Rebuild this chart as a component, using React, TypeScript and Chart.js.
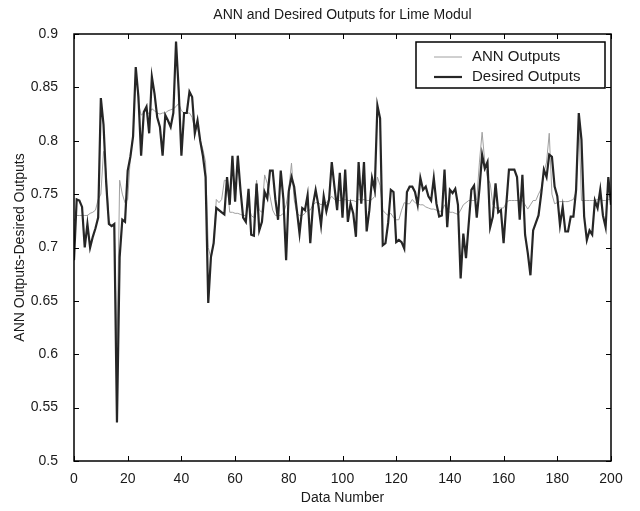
import { useEffect, useRef } from "react";
import { Chart, registerables } from "chart.js";

Chart.register(...registerables);

const dataNumber: number[] = Array.from({ length: 201 }, (_, i) => i);

const annOutputs: number[] = [
  0.725, 0.730, 0.730, 0.730, 0.730, 0.730, 0.732, 0.733, 0.735, 0.745,
  0.750, 0.790, 0.770, 0.725, 0.720, 0.720, 0.600, 0.763, 0.750, 0.742,
  0.745, 0.785, 0.805, 0.868, 0.835, 0.824, 0.826, 0.828, 0.825, 0.830,
  0.828, 0.826, 0.825, 0.826, 0.826, 0.828, 0.829, 0.830, 0.832, 0.835,
  0.828, 0.826, 0.826, 0.826, 0.822, 0.810, 0.812, 0.800, 0.792, 0.780,
  0.700, 0.690, 0.704, 0.745, 0.742, 0.745, 0.763, 0.762, 0.733, 0.733,
  0.732, 0.732, 0.731, 0.730, 0.730, 0.740, 0.730, 0.728, 0.763, 0.735,
  0.733, 0.768, 0.760, 0.748, 0.735, 0.730, 0.730, 0.730, 0.732, 0.740,
  0.755, 0.779, 0.745, 0.732, 0.730, 0.730, 0.732, 0.735, 0.735, 0.740,
  0.742, 0.742, 0.740, 0.742, 0.742, 0.745, 0.748, 0.745, 0.744, 0.744,
  0.744, 0.745, 0.744, 0.744, 0.744, 0.743, 0.745, 0.744, 0.745, 0.744,
  0.744, 0.745, 0.748, 0.766, 0.758, 0.735, 0.732, 0.730, 0.732, 0.728,
  0.726, 0.726, 0.735, 0.742, 0.741, 0.741, 0.745, 0.742, 0.741, 0.740,
  0.740, 0.738, 0.737, 0.736, 0.736, 0.735, 0.734, 0.734, 0.740, 0.735,
  0.733, 0.733, 0.732, 0.731, 0.735, 0.740, 0.742, 0.744, 0.744, 0.744,
  0.745, 0.780, 0.808, 0.780, 0.765, 0.760, 0.740, 0.737, 0.737, 0.737,
  0.737, 0.742, 0.744, 0.744, 0.744, 0.744, 0.744, 0.744, 0.740, 0.736,
  0.740, 0.744, 0.744, 0.750, 0.755, 0.770, 0.780, 0.807, 0.750, 0.741,
  0.742, 0.743, 0.743, 0.743, 0.743, 0.744, 0.745, 0.752, 0.822, 0.744,
  0.744, 0.744, 0.744, 0.744, 0.744, 0.745, 0.745, 0.744, 0.744, 0.745,
  0.745,
];

const desiredOutputs: number[] = [
  0.688, 0.745, 0.744, 0.738, 0.700, 0.722, 0.700, 0.710, 0.718, 0.728,
  0.840, 0.815, 0.760, 0.722, 0.720, 0.722, 0.536, 0.691, 0.726, 0.724,
  0.772, 0.785, 0.804, 0.869, 0.841, 0.786, 0.827, 0.832, 0.807, 0.860,
  0.844, 0.822, 0.813, 0.786, 0.824, 0.819, 0.813, 0.826, 0.893, 0.847,
  0.786, 0.826, 0.826, 0.846, 0.841, 0.807, 0.819, 0.800, 0.786, 0.766,
  0.648, 0.691, 0.704, 0.737, 0.735, 0.733, 0.731, 0.766, 0.740, 0.786,
  0.743, 0.786, 0.754, 0.728, 0.724, 0.755, 0.712, 0.711, 0.760, 0.716,
  0.724, 0.752, 0.746, 0.772, 0.772, 0.745, 0.726, 0.772, 0.745, 0.688,
  0.753, 0.766, 0.757, 0.735, 0.713, 0.737, 0.735, 0.749, 0.704, 0.740,
  0.754, 0.740, 0.721, 0.748, 0.734, 0.745, 0.780, 0.757, 0.735, 0.770,
  0.728, 0.773, 0.724, 0.741, 0.732, 0.710, 0.780, 0.741, 0.780, 0.715,
  0.735, 0.765, 0.754, 0.833, 0.821, 0.702, 0.704, 0.723, 0.754, 0.752,
  0.705, 0.707, 0.705, 0.699, 0.752, 0.757, 0.757, 0.752, 0.740, 0.765,
  0.754, 0.757, 0.748, 0.744, 0.765, 0.741, 0.729, 0.730, 0.773, 0.719,
  0.754, 0.751, 0.755, 0.740, 0.671, 0.713, 0.690, 0.722, 0.754, 0.758,
  0.728, 0.755, 0.787, 0.774, 0.780, 0.719, 0.729, 0.760, 0.733, 0.735,
  0.704, 0.740, 0.773, 0.773, 0.773, 0.766, 0.726, 0.768, 0.712, 0.695,
  0.674, 0.716, 0.723, 0.730, 0.750, 0.773, 0.766, 0.787, 0.785, 0.757,
  0.748, 0.721, 0.738, 0.715, 0.715, 0.729, 0.729, 0.754, 0.826, 0.801,
  0.729, 0.707, 0.716, 0.712, 0.744, 0.737, 0.754, 0.730, 0.719, 0.766,
  0.740,
];

const xTicks: number[] = [0, 20, 40, 60, 80, 100, 120, 140, 160, 180, 200];
const xTickLabels: string[] = ["0", "20", "40", "60", "80", "100", "120", "140", "160", "180", "200"];
const yTicks: number[] = [0.5, 0.55, 0.6, 0.65, 0.7, 0.75, 0.8, 0.85, 0.9];
const yTickLabels: string[] = ["0.5", "0.55", "0.6", "0.65", "0.7", "0.75", "0.8", "0.85", "0.9"];

const FONT = "'Liberation Sans', Arial, sans-serif";
const TEXT = "#1a1a1a";

const whiteBg = {
  id: "whiteBg",
  beforeDraw(chart: any) {
    const { ctx, width, height } = chart;
    ctx.save();
    ctx.fillStyle = "#ffffff";
    ctx.fillRect(0, 0, width, height);
    ctx.restore();
  },
};

const frameTicks = {
  id: "frameTicks",
  afterDatasetsDraw(chart: any) {
    const { ctx, chartArea } = chart;
    const { left, right, top, bottom } = chartArea;
    const xs = chart.scales.x;
    const ys = chart.scales.y;
    const tl = 5;
    ctx.save();
    ctx.strokeStyle = "#000000";
    ctx.lineWidth = 1;
    ctx.beginPath();
    xTicks.forEach((v) => {
      const px = Math.round(xs.getPixelForValue(v)) + 0.5;
      ctx.moveTo(px, bottom);
      ctx.lineTo(px, bottom - tl);
      ctx.moveTo(px, top);
      ctx.lineTo(px, top + tl);
    });
    yTicks.forEach((v) => {
      const py = Math.round(ys.getPixelForValue(v)) + 0.5;
      ctx.moveTo(left, py);
      ctx.lineTo(left + tl, py);
      ctx.moveTo(right, py);
      ctx.lineTo(right - tl, py);
    });
    ctx.stroke();
    ctx.lineWidth = 1.5;
    ctx.strokeRect(left, top, right - left, bottom - top);
    ctx.restore();
  },
};

const boxLegend = {
  id: "boxLegend",
  afterDraw(chart: any) {
    const { ctx, chartArea } = chart;
    const w = 189;
    const h = 46;
    const x0 = chartArea.right - 6 - w;
    const y0 = chartArea.top + 8;
    ctx.save();
    ctx.fillStyle = "#ffffff";
    ctx.fillRect(x0, y0, w, h);
    ctx.strokeStyle = "#000000";
    ctx.lineWidth = 1.5;
    ctx.strokeRect(x0, y0, w, h);
    const rows = [15, 35];
    chart.data.datasets.forEach((ds: any, i: number) => {
      const y = y0 + rows[i];
      ctx.strokeStyle = ds.borderColor;
      ctx.lineWidth = ds.borderWidth;
      ctx.beginPath();
      ctx.moveTo(x0 + 18, y);
      ctx.lineTo(x0 + 46, y);
      ctx.stroke();
      ctx.fillStyle = TEXT;
      ctx.font = `15px ${FONT}`;
      ctx.textBaseline = "middle";
      ctx.textAlign = "left";
      ctx.fillText(ds.label, x0 + 56, y);
    });
    ctx.restore();
  },
};

export default function App() {
  const ref = useRef<HTMLCanvasElement | null>(null);

  useEffect(() => {
    if (!ref.current) return;
    const chart = new Chart(ref.current, {
      type: "line",
      data: {
        datasets: [
          {
            label: "ANN Outputs",
            data: dataNumber.map((x, i) => ({ x, y: annOutputs[i] })),
            borderColor: "#a0a0a0",
            borderWidth: 1,
            pointRadius: 0,
            tension: 0,
            fill: false,
            order: 2,
          },
          {
            label: "Desired Outputs",
            data: dataNumber.map((x, i) => ({ x, y: desiredOutputs[i] })),
            borderColor: "#262626",
            borderWidth: 2.2,
            pointRadius: 0,
            tension: 0,
            fill: false,
            order: 1,
          },
        ],
      },
      options: {
        responsive: false,
        animation: false,
        devicePixelRatio: 1,
        layout: { padding: { left: 0, right: 29, top: 0, bottom: 0 } },
        plugins: {
          legend: { display: false },
          tooltip: { enabled: false },
          title: {
            display: true,
            fullSize: false,
            text: "ANN and Desired Outputs for Lime Modul",
            color: TEXT,
            font: { family: FONT, size: 14, weight: "normal", lineHeight: 16 / 14 },
            padding: { top: 7, bottom: 11 },
          },
        },
        scales: {
          x: {
            type: "linear",
            min: 0,
            max: 200,
            afterBuildTicks: (s: any) => {
              s.ticks = xTicks.map((v) => ({ value: v }));
            },
            afterFit: (s: any) => {
              s.height = 50;
            },
            grid: { display: false },
            border: { display: false },
            ticks: {
              autoSkip: false,
              maxRotation: 0,
              padding: 2,
              color: TEXT,
              font: { family: FONT, size: 14 },
              callback: (_v: any, i: number) => xTickLabels[i],
            },
            title: {
              display: true,
              text: "Data Number",
              color: TEXT,
              font: { family: FONT, size: 14 },
              padding: { top: 0, bottom: 4 },
            },
          },
          y: {
            type: "linear",
            min: 0.5,
            max: 0.9,
            afterBuildTicks: (s: any) => {
              s.ticks = yTicks.map((v) => ({ value: v }));
            },
            afterFit: (s: any) => {
              s.width = 74;
            },
            grid: { display: false },
            border: { display: false },
            ticks: {
              autoSkip: false,
              padding: 8,
              color: TEXT,
              font: { family: FONT, size: 14 },
              callback: (_v: any, i: number) => yTickLabels[i],
            },
            title: {
              display: true,
              text: "ANN Outputs-Desired Outputs",
              color: TEXT,
              font: { family: FONT, size: 14 },
              padding: { top: 12, bottom: 0 },
            },
          },
        },
      },
      plugins: [whiteBg, frameTicks, boxLegend],
    });
    return () => chart.destroy();
  }, []);

  return (
    <div style={{ position: "fixed", left: 0, top: 0, width: 640, height: 511, background: "#fff" }}>
      <canvas ref={ref} width={640} height={511} style={{ display: "block", width: 640, height: 511 }} />
    </div>
  );
}
